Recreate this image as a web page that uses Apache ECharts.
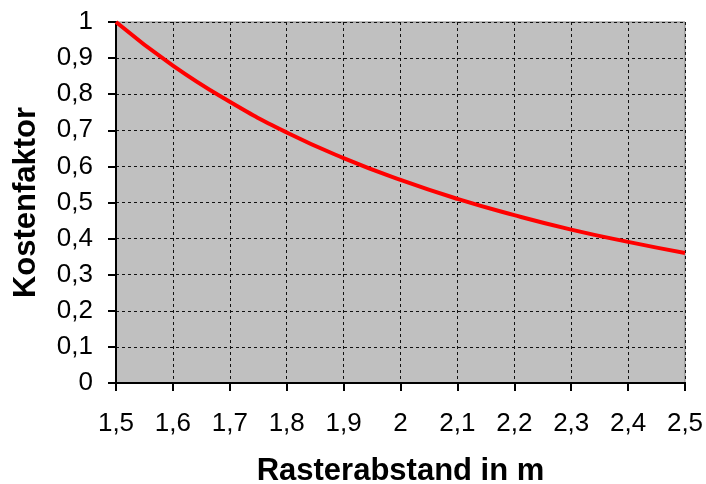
<!DOCTYPE html>
<html><head><meta charset="utf-8">
<script src="https://cdn.jsdelivr.net/npm/echarts@6/dist/echarts.min.js"></script>
<style>html,body{margin:0;padding:0;background:#fff}#c{width:706px;height:484px}</style>
</head><body><div id="c"></div>
<script>
const categories = ['1,5','1,6','1,7','1,8','1,9','2','2,1','2,2','2,3','2,4','2,5'];
const costFactor = [1.0, 0.879, 0.779, 0.694, 0.623, 0.5625, 0.510, 0.465, 0.425, 0.391, 0.36];
const yTicks = [0,0.1,0.2,0.3,0.4,0.5,0.6,0.7,0.8,0.9,1];
const xTitle = 'Rasterabstand in m';
const yTitle = 'Kostenfaktor';

const chart = echarts.init(document.getElementById('c'), null, {renderer:'canvas'});
const font = 'Liberation Sans, Arial, sans-serif';
chart.setOption({
  animation:false,
  grid:{left:116,right:21,top:22,bottom:101,outerBoundsMode:'none',containLabel:false,show:true,backgroundColor:'#c0c0c0',borderColor:'#808080',borderWidth:1},
  xAxis:{
    type:'category', data:categories, boundaryGap:false,
    name:xTitle, nameLocation:'middle', nameGap:73,
    nameTextStyle:{fontFamily:font,fontWeight:'bold',fontSize:31,color:'#000'},
    axisLine:{lineStyle:{color:'#000',width:2}},
    axisTick:{show:true,length:8,lineStyle:{color:'#000',width:2}},
    axisLabel:{margin:28,fontFamily:font,fontSize:26,color:'#000'},
    splitLine:{show:true,lineStyle:{color:'#111',type:[3,3],width:1}}
  },
  yAxis:{
    type:'value', min:0, max:1, interval:0.1,
    name:yTitle, nameLocation:'middle', nameGap:74,
    nameTextStyle:{fontFamily:font,fontWeight:'bold',fontSize:31,color:'#000'},
    axisLine:{show:true,lineStyle:{color:'#000',width:2}},
    axisTick:{show:true,length:8,lineStyle:{color:'#000',width:2}},
    axisLabel:{margin:23,fontFamily:font,fontSize:26,color:'#000',
      formatter:v=>{const t=yTicks.find(x=>Math.abs(x-v)<1e-9);return String(Math.round((t!==undefined?t:v)*10)/10).replace('.',',');}},
    splitLine:{show:true,lineStyle:{color:'#111',type:[3,3],width:1}}
  },
  series:[{type:'line',data:costFactor,smooth:true,symbol:'none',lineStyle:{color:'#ff0000',width:4}}]
});
</script></body></html>
